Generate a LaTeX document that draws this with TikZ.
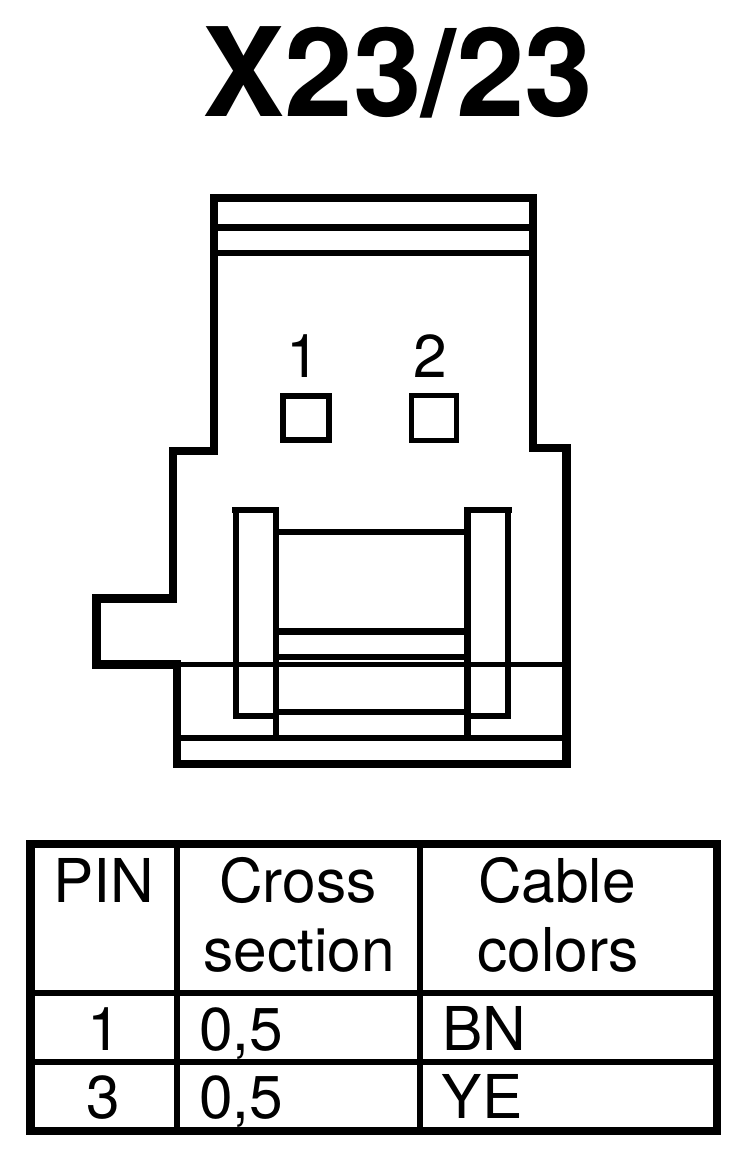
\documentclass[tikz,border=0pt]{standalone}
\usepackage{fontspec}
\setmainfont{TeX Gyre Heros}
\tikzset{
  lw/.style={line width=#1*0.75pt,line cap=butt,line join=miter,draw=black},
  txt/.style={inner sep=0pt,outer sep=0pt,anchor=base,font=\fontsize{45.3pt}{45pt}\selectfont,text=black},
  ttl/.style={inner sep=0pt,outer sep=0pt,anchor=base,font=\fontsize{92.5pt}{93pt}\selectfont\bfseries,text=black}
}
\begin{document}
\begin{tikzpicture}[x=0.75pt,y=-0.75pt]
\useasboundingbox (0,0) rectangle (752,1168);
\fill[white] (0,0) rectangle (752,1168);
% title
\node[ttl] (title) at (398,116.7) {X23/23};
% connector body outline
\draw[lw=8] (214,194) -- (214,451) -- (173,451) -- (173,598.5);
\draw[lw=9] (177,598.5) -- (96.5,598.5) -- (96.5,664.5) -- (181,664.5);
\draw[lw=8] (177,664) -- (177,764) -- (571,764);
\draw[lw=8] (533,194) -- (533,448) -- (566.5,448);
\draw[lw=9] (566.5,444) -- (566.5,768);
\draw[lw=8] (210,198) -- (537,198);
\draw[lw=6.7] (218,227.3) -- (529,227.3);
\draw[lw=6] (218,253) -- (529,253);
% pin squares
\draw[lw=6] (283,395.7) rectangle (328.5,440);
\draw[lw=5] (411.5,395.5) rectangle (456.5,440.5);
\node[txt] (pa) at (303,377.3) {1};
\node[txt] (pb) at (430.5,377.3) {2};
% latch posts
\draw[lw=5] (181,664.5) -- (562,664.5);
\draw[lw=6] (232,510) -- (279,510);
\draw[lw=6] (236,510) -- (236,716) -- (276,716);
\draw[lw=6] (276,510) -- (276,738);
\draw[lw=6.5] (464,510) -- (512,510);
\draw[lw=6.5] (467.3,510) -- (467.3,738);
\draw[lw=6] (507.5,510) -- (507.5,716) -- (467,716);
\draw[lw=6] (279,532) -- (464,532);
\draw[lw=7] (279,631.5) -- (464,631.5);
\draw[lw=6] (279,657) -- (464,657);
\draw[lw=6] (279,712) -- (464,712);
\draw[lw=6] (181,738) -- (562,738);
% table
\draw[lw=8] (26,844) -- (721,844);
\draw[lw=8] (26,1131) -- (721,1131);
\draw[lw=9] (30.5,840) -- (30.5,1135);
\draw[lw=8] (717,840) -- (717,1135);
\draw[lw=5.7] (177,844) -- (177,1131);
\draw[lw=5.7] (420.3,844) -- (420.3,1131);
\draw[lw=6.3] (30,993) -- (717,993);
\draw[lw=5.7] (30,1062) -- (717,1062);
\node[txt] (h1) at (103.5,902.7) {PIN};
\node[txt] (h2) at (298,902.7) {Cross};
\node[txt] (h2b) at (299,971.7) {section};
\node[txt] (h3) at (557,902.7) {Cable};
\node[txt] (h3b) at (558,971.7) {colors};
\node[txt] (r1a) at (104,1050) {1};
\node[txt] (r1b) at (241,1050) {0,5};
\node[txt] (r1c) at (484.5,1050) {BN};
\node[txt] (r2a) at (103,1118) {3};
\node[txt] (r2b) at (241,1118) {0,5};
\node[txt] (r2c) at (482,1118) {YE};
\end{tikzpicture}
\end{document}
